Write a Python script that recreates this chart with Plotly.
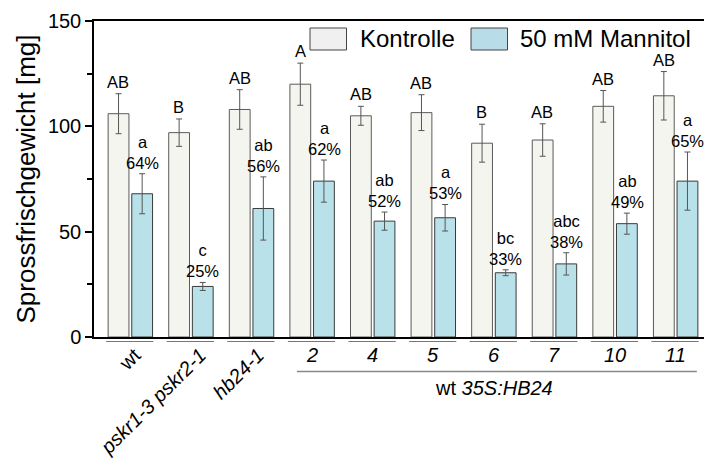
import plotly.graph_objects as go

# data
lines = ["wt", "pskr1-3 pskr2-1", "hb24-1", "2", "4", "5", "6", "7", "10", "11"]
kontrolle = [106, 97, 108, 120, 105, 106.5, 92, 93.5, 109.5, 114.5]
kontrolle_err = [9.5, 6.5, 9.4, 10, 4.5, 8.5, 9, 7.7, 7.5, 11.5]
mannitol = [68, 24, 61, 74, 55, 56.6, 30.5, 34.7, 53.8, 74]
mannitol_err = [9.5, 1.9, 15, 10, 4.3, 6.3, 1.4, 5.3, 5, 13.8]
kontrolle_letters = ["AB", "B", "AB", "A", "AB", "AB", "B", "AB", "AB", "AB"]
mannitol_letters = ["a", "c", "ab", "a", "ab", "a", "bc", "abc", "ab", "a"]
mannitol_pct = ["64%", "25%", "56%", "62%", "52%", "53%", "33%", "38%", "49%", "65%"]

# page has an 8px body margin, so the figure is drawn 8px smaller and shifted
OFF = 8
W, H = 712 - OFF, 463 - OFF
L, R, T, B = 94 - OFF, 0, 21 - OFF, 126
PW, PH = W - L - R, H - T - B


def px(x):
    # page pixel -> paper coordinate
    return (x - OFF - L) / PW


def py(y):
    return 1 - (y - OFF - T) / PH


FONT = "Liberation Sans, Arial, sans-serif"
x = list(range(len(lines)))

fig = go.Figure()
fig.add_trace(go.Bar(
    x=x, y=kontrolle, name="Kontrolle",
    marker=dict(color="#f5f5f0", line=dict(color="#5a5a5a", width=1)),
    error_y=dict(type="data", array=kontrolle_err, color="#555555", thickness=1, width=3),
    showlegend=False,
))
fig.add_trace(go.Bar(
    x=x, y=mannitol, name="50 mM Mannitol",
    marker=dict(color="#b9e1ea", line=dict(color="#3a3a3a", width=1)),
    error_y=dict(type="data", array=mannitol_err, color="#555555", thickness=1, width=3),
    showlegend=False,
))

label_shift = [0.29, 0.37, 0.31]

ann = []
shapes = []
for i in x:
    # significance letters
    ann.append(dict(x=i, y=kontrolle[i] + kontrolle_err[i], xref="x", yref="y",
                    text=kontrolle_letters[i], showarrow=False, xshift=-12, yshift=1,
                    yanchor="bottom", font=dict(size=16.5, color="black", family=FONT)))
    ann.append(dict(x=i, y=mannitol[i] + mannitol_err[i], xref="x", yref="y",
                    text=mannitol_letters[i] + "<br>" + mannitol_pct[i], showarrow=False,
                    xshift=12, yshift=0, yanchor="bottom",
                    font=dict(size=16.5, color="black", family=FONT)))
    # line under each group
    shapes.append(dict(type="line", xref="x", yref="paper", x0=i - 0.4, x1=i + 0.38,
                       y0=py(341.5), y1=py(341.5), line=dict(color="#777777", width=1)))
    # x labels
    if i < 3:
        txt = lines[i] if i == 0 else "<i>" + lines[i] + "</i>"
        ann.append(dict(x=i + label_shift[i], y=py(341), xref="x", yref="paper", text=txt,
                        showarrow=False, textangle=-45, xanchor="right", yanchor="top",
                        font=dict(size=20, color="black", family=FONT)))
    else:
        ann.append(dict(x=i, y=py(355), xref="x", yref="paper", text="<i>" + lines[i] + "</i>",
                        showarrow=False, yanchor="middle",
                        font=dict(size=20, color="black", family=FONT)))

shapes.append(dict(type="line", xref="x", yref="paper", x0=2.75, x1=9.35,
                   y0=py(371.5), y1=py(371.5), line=dict(color="#888888", width=1.5)))
ann.append(dict(x=6.0, y=py(388), xref="x", yref="paper", text="wt <i>35S:HB24</i>",
                showarrow=False, yanchor="middle", font=dict(size=20, color="black", family=FONT)))

# legend drawn by hand (large boxes)
shapes.append(dict(type="rect", xref="paper", yref="paper", x0=px(310), x1=px(346.5),
                   y0=py(50), y1=py(28), fillcolor="#f0f0f0", line=dict(color="#444444", width=1)))
shapes.append(dict(type="rect", xref="paper", yref="paper", x0=px(471), x1=px(507.5),
                   y0=py(50), y1=py(28), fillcolor="#b9dde8", line=dict(color="#444444", width=1)))
ann.append(dict(x=px(358), y=py(39), xref="paper", yref="paper", text="Kontrolle",
                showarrow=False, xanchor="left", yanchor="middle",
                font=dict(size=24, color="black", family=FONT)))
ann.append(dict(x=px(518), y=py(39), xref="paper", yref="paper", text="50 mM Mannitol",
                showarrow=False, xanchor="left", yanchor="middle",
                font=dict(size=24, color="black", family=FONT)))

fig.update_layout(
    width=W, height=H,
    margin=dict(l=L, r=R, t=T, b=B),
    barmode="group", bargap=0.22, bargroupgap=0.12,
    plot_bgcolor="white", paper_bgcolor="white",
    font=dict(family=FONT, color="black"),
    annotations=ann, shapes=shapes,
    xaxis=dict(range=[-0.6, 9.6], showticklabels=False, ticks="", showgrid=False,
               automargin=False,
               zeroline=False, showline=True, linecolor="black", linewidth=1.5, mirror=True),
    yaxis=dict(range=[0, 150], tickvals=[0, 50, 100, 150], ticks="outside", ticklen=7,
               tickwidth=1.5, tickcolor="black", showgrid=False, zeroline=False,
               automargin=False,
               showline=True, linecolor="black", linewidth=1.5,
               tickfont=dict(size=20, family=FONT),
               minor=dict(tickvals=[25, 75, 125], ticks="outside", ticklen=5, tickcolor="black"),
               title=dict(text="Sprossfrischgewicht [mg]", font=dict(size=26, family=FONT),
                          standoff=5)),
)

fig.write_html("out.html")
